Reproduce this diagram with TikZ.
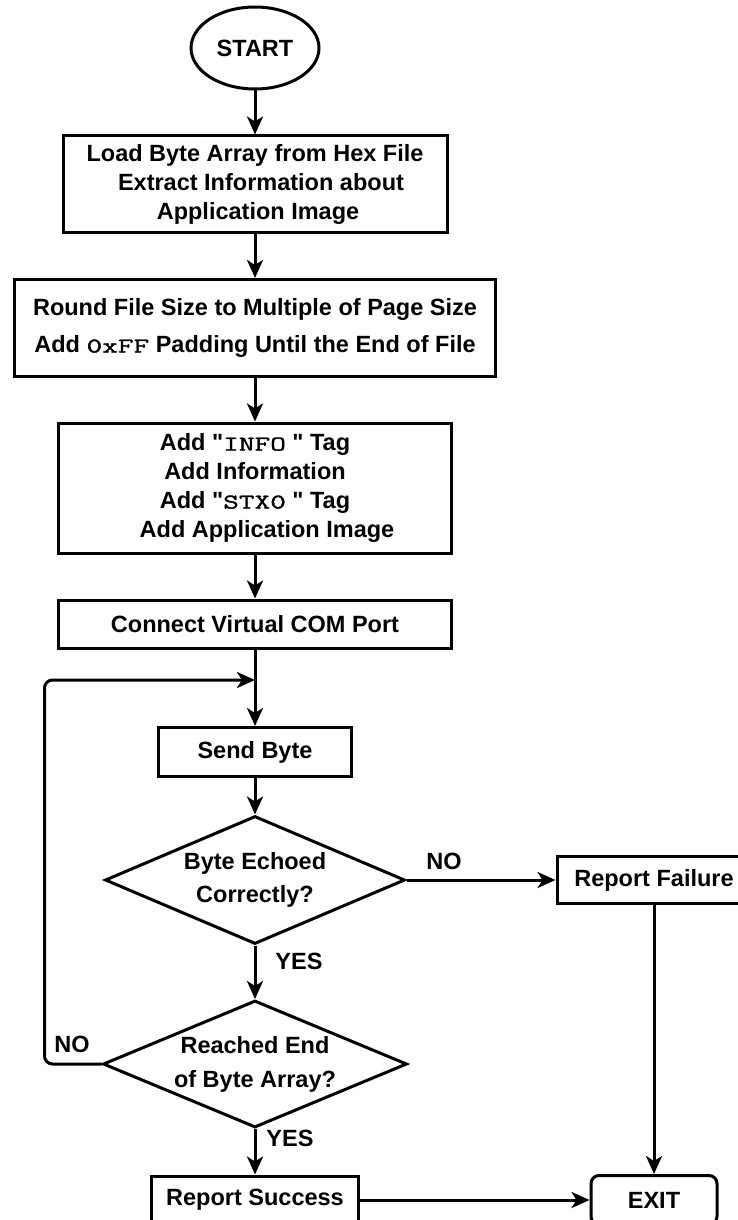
\documentclass[tikz,border=0pt]{standalone}
\usepackage{fontspec}
\setmainfont{Liberation Sans}[Ligatures=TeXOff]
\newfontfamily\codefont{Latin Modern Mono}[FakeStretch=1.45,FakeBold=1.6]
\usetikzlibrary{shapes.geometric,arrows.meta}
\newcommand{\code}[1]{{\codefont\fontsize{21}{29}\selectfont #1}}
\begin{document}
\begin{tikzpicture}[x=1pt,y=-1pt,
  every node/.style={font=\fontsize{23.5}{29}\selectfont\bfseries,
                     align=center, inner sep=0pt},
  box/.style={draw, line width=3pt, rectangle},
  terminal/.style={draw, line width=3pt, ellipse},
  endbox/.style={draw, line width=3pt, rectangle, rounded corners=8pt},
  decision/.style={draw, line width=3pt, diamond},
  arr/.style={line width=3pt, -{Stealth[length=18pt, width=16pt, inset=5pt]}}]

\clip (0,0) rectangle (738,1220);

% process steps
\node[terminal, minimum width=128pt, minimum height=82pt] (start) at (255,48) {START};

\node[box, minimum width=384pt, minimum height=96pt] (load) at (255,184)
  {Load Byte Array from Hex File\\\hspace*{12pt}Extract Information about\\\hspace*{6pt}Application Image};

\node[box, minimum width=481pt, minimum height=97pt] (pad) at (255,328)
  {Round File Size to Multiple of Page Size\\[8pt]Add \code{0xFF} Padding Until the End of File};

\node[box, minimum width=393pt, minimum height=130pt] (tags) at (255,488)
  {Add "\code{INFO} " Tag\\Add Information\\Add "\code{STX0} " Tag\\\hspace*{24pt}Add Application Image};

\node[box, minimum width=393pt, minimum height=48pt] (com) at (255,624) {Connect Virtual COM Port};

\coordinate (loopin) at (255,680);

\node[box, minimum width=193pt, minimum height=49pt] (send) at (255,752) {Send Byte};

\node[decision, minimum width=300pt, minimum height=128pt,
      label={center:Byte Echoed\\[4pt]Correctly?}] (echo) at (255,880) {};

\node[box, minimum width=194pt, minimum height=47pt] (fail) at (654,880) {Report Failure};

\node[decision, minimum width=304pt, minimum height=127pt,
      label={center:Reached End\\[5pt]of Byte Array?}] (reach) at (255,1064) {};

\node[box, minimum width=207pt, minimum height=48pt] (success) at (255,1200) {Report Success};

\node[endbox, minimum width=126pt, minimum height=49pt] (exit) at (654,1200) {EXIT};

% branch labels
\node (no1) at (444,861) {NO};
\node (yes1) at (299,961) {YES};
\node (no2) at (72,1044) {NO};
\node (yes2) at (290,1138) {YES};

% connectors
\draw[arr] (start.south) -- (load.north);
\draw[arr] (load.south) -- (pad.north);
\draw[arr] (pad.south) -- (tags.north);
\draw[arr] (tags.south) -- (com.north);
\draw[arr] (com.south) -- (send.north);
\draw[arr] (send.south) -- (echo.north);
\draw[arr] (echo.east) -- (fail.west);
\draw[arr] (echo.south) -- (reach.north);
\draw[arr, rounded corners=8pt] (reach.west) -- ++(-57,0) |- (loopin);
\draw[arr] (reach.south) -- (success.north);
\draw[arr] (success.east) -- (exit.west);
\draw[arr] (fail.south) -- (exit.north);
\end{tikzpicture}
\end{document}
